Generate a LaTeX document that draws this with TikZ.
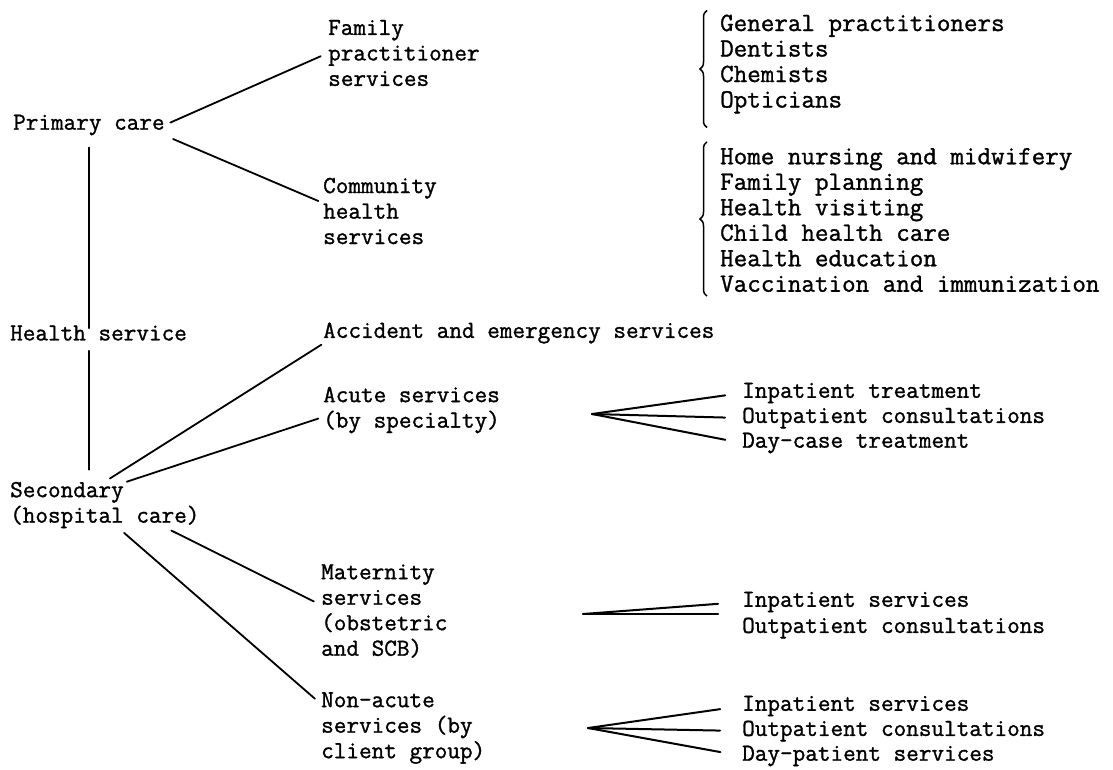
\documentclass[tikz,border=0pt]{standalone}
\usepackage{fontspec}
\newfontfamily\typewr{Latin Modern Mono}[FakeBold = 1.2]
\usepackage{tikz}
\usetikzlibrary{calc}
\usetikzlibrary{decorations.pathreplacing}

\begin{document}
\begin{tikzpicture}
[
	x = 1pt, y = -1pt,
	lbl/.style	= {anchor = west, inner sep = 0pt, align = left, font = \typewr\fontsize{24.5}{25.5}\selectfont},
	lst/.style	= {lbl, font = \typewr\fontsize{26.3}{25.5}\selectfont},
	link/.style	= {line width = 1.8pt, line cap = round},
	fan/.style	= {link, line width = 2pt},
	brc/.style	= {decorate, decoration = {brace, amplitude = 7pt}, line width = 1.5pt},
]

	\useasboundingbox (0,0) rectangle (1113,769);

	\node (primary) [lbl] at (13,125) {Primary care};
	\node (health) [lbl] at (10,333) {Health service};
	\node (secondary) [lbl] at (10,505) {Secondary\\(hospital care)};
	%
	\node (family) [lbl] at (328,53) {Family\\practitioner\\services};
	\node (community) [lbl] at (323,211) {Community\\health\\services};
	\node (accident) [lbl] at (323,333) {Accident and emergency services};
	\node (acute) [lbl] at (323,410) {Acute services\\(by specialty)};
	\node (maternity) [lbl] at (321,611) {Maternity\\services\\(obstetric\\and SCB)};
	\node (nonacute) [lbl] at (321,728) {Non-acute\\services (by\\client group)};
	%
	\node (fps) [lst] at (720,64) {General practitioners\\Dentists\\Chemists\\Opticians};
	\node (chs) [lst] at (720,220) {Home nursing and midwifery\\Family planning\\Health visiting\\Child health care\\Health education\\Vaccination and immunization};
	%
	\node (acute1) [lbl] at (742,393) {Inpatient treatment};
	\node (acute2) [lbl] at (742,418) {Outpatient consultations};
	\node (acute3) [lbl] at (742,443) {Day-case treatment};
	\node (mat1) [lbl] at (742,602) {Inpatient services};
	\node (mat2) [lbl] at (742,628) {Outpatient consultations};
	\node (non1) [lbl] at (742,706) {Inpatient services};
	\node (non2) [lbl] at (742,731) {Outpatient consultations};
	\node (non3) [lbl] at (742,756) {Day-patient services};
	%
	\coordinate (acutefan) at (592,414);
	\coordinate (matfan) at (583,614);
	\coordinate (nonfan) at (588,728);

	\draw [link, shorten < = 12pt, shorten > = -3pt] (primary.south) -- (primary.south |- health.north);
	\draw [link, shorten < = 10pt, shorten > = 12pt] (primary.south |- health.south) -- (primary.south |- secondary.north);
	%
	\draw [link, shorten < = 6pt, shorten > = 8pt] (primary.east) -- (family.west);
	\draw [link, shorten < = 9pt, shorten > = 5pt] (primary.south east) -- ([yshift = 8pt]community.west);

	\draw [link, shorten < = 6pt, shorten > = 2pt] (secondary.north) -- (accident.south west);
	\draw [link, shorten > = 5pt] ([xshift = 22pt]secondary.north) -- ([yshift = -7pt]acute.west);
	\draw [link, shorten < = 5pt, shorten > = 8pt] ([xshift = 62pt]secondary.south) -- ([yshift = 6pt]maternity.west);
	\draw [link, shorten < = 7pt, shorten > = 8pt] ([xshift = 14pt]secondary.south) -- ([yshift = 24pt]nonacute.west);

	\draw [brc] ([xshift = -13pt, yshift = -14pt]fps.south west) -- ([xshift = -13pt, yshift = 4pt]fps.north west);
	\draw [brc] ([xshift = -13pt, yshift = -4pt]chs.south west) -- ([xshift = -13pt, yshift = 6pt]chs.north west);

	\draw [fan, shorten > = 17pt] (acutefan) -- (acute1.west);
	\draw [fan, shorten > = 17pt] (acutefan) -- (acute2.west);
	\draw [fan, shorten > = 17pt] (acutefan) -- (acute3.west);
	%
	\draw [fan, shorten > = 24pt] (matfan) -- (mat1.west);
	\draw [fan, shorten > = 24pt] (matfan) -- ([yshift = 14pt]mat2.west);
	%
	\draw [fan, shorten > = 22pt] (nonfan) -- (non1.west);
	\draw [fan, shorten > = 22pt] (nonfan) -- (non2.west);
	\draw [fan, shorten > = 22pt] (nonfan) -- (non3.west);

\end{tikzpicture}
\end{document}
